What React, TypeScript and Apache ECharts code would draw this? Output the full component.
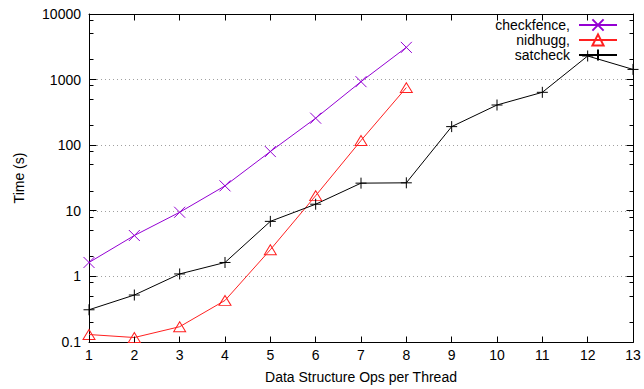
import React, { useEffect, useRef } from "react";
import * as echarts from "echarts";

const opsPerThread = [1, 2, 3, 4, 5, 6, 7, 8, 9, 10, 11, 12, 13];
const checkfenceTimes = [1.63, 4.2, 9.5, 24, 80, 258, 930, 3100];
const nidhuggTimes = [0.13, 0.117, 0.171, 0.43, 2.55, 17, 118, 755];
const satcheckTimes = [0.31, 0.52, 1.09, 1.63, 6.9, 12.6, 26.4, 26.7, 192, 410, 640, 2290, 1430];
const seriesNames = ["checkfence,", "nidhugg,", "satcheck"];
const majorTickValues = [0.1, 1, 10, 100, 1000, 10000];
const minorTickValues = [0.2, 0.5, 0.8, 2, 5, 8, 20, 50, 80, 200, 500, 800, 2000, 5000, 8000];

const X_MIN = 1;
const X_MAX = 13;
const Y_MIN = 0.1;
const Y_MAX = 10000;

const FONT = "Liberation Sans, Arial, Helvetica, sans-serif";
const PURPLE = "#9400d3";
const RED = "#ff2020";
const BLACK = "#000000";

const SYM_X = "path://M0,0L10,10M10,0L0,10";
const SYM_TRI = "path://M5,0L10,9L0,9Z";
const SYM_PLUS = "path://M5,0L5,10M0,5L10,5";

function pairs(vals: number[]) {
  return vals.map((v, i) => [opsPerThread[i], v]);
}

const snap = (v: number) => Math.round(v - 0.5) + 0.5;

export default function App() {
  const ref = useRef<HTMLDivElement>(null);
  useEffect(() => {
    if (!ref.current) return;
    const chart = echarts.init(ref.current, null, { renderer: "svg" });
    const mkSeries = (name: string, vals: number[], color: string, symbol: string, size: number | number[]) => ({
      name,
      type: "line",
      data: pairs(vals),
      xAxisIndex: 0,
      yAxisIndex: 0,
      symbol,
      symbolSize: size,
      symbolKeepAspect: true,
      z: 3,
      lineStyle: { color, width: 1 },
      itemStyle: { color: "transparent", borderColor: color, borderWidth: 1 },
      emphasis: { disabled: true },
    });
    const axisLine = { show: true, onZero: false, lineStyle: { color: "#000", width: 1 } };
    chart.setOption({
      animation: false,
      textStyle: { fontFamily: FONT },
      grid: { left: 89, right: 11, top: 14, bottom: 47, containLabel: false },
      legend: {
        data: seriesNames,
        orient: "vertical",
        right: 26,
        top: 18,
        align: "right",
        padding: 0,
        itemGap: 1,
        itemWidth: 38,
        itemHeight: 14,
        selectedMode: false,
        textStyle: { fontFamily: FONT, fontSize: 14, color: "#000", padding: [0, 4, 0, 0] },
      },
      xAxis: [
        {
          type: "value",
          min: X_MIN,
          max: X_MAX,
          interval: 1,
          position: "bottom",
          name: "Data Structure Ops per Thread",
          nameLocation: "middle",
          nameGap: 28,
          nameTextStyle: { fontFamily: FONT, fontSize: 14, color: "#000" },
          axisLine,
          axisTick: { show: false },
          axisLabel: { fontFamily: FONT, fontSize: 14, color: "#000", margin: 6 },
          splitLine: { show: false },
        },
        {
          type: "value",
          min: X_MIN,
          max: X_MAX,
          interval: 1,
          position: "top",
          axisLine,
          axisTick: { show: false },
          axisLabel: { show: false },
          splitLine: { show: false },
        },
      ],
      yAxis: [
        {
          type: "log",
          logBase: 10,
          min: Y_MIN,
          max: Y_MAX,
          splitNumber: 5,
          position: "left",
          name: "Time (s)",
          nameLocation: "middle",
          nameGap: 63,
          nameTextStyle: { fontFamily: FONT, fontSize: 14, color: "#000" },
          axisLine,
          axisTick: { show: false },
          axisLabel: {
            fontFamily: FONT,
            fontSize: 14,
            color: "#000",
            margin: 8,
            formatter: (v: number) => String(Number(v.toPrecision(6))),
          },
          splitLine: { show: true, lineStyle: { color: "#a0a0a0", width: 1, type: [1, 3] } },
        },
        {
          type: "log",
          logBase: 10,
          min: Y_MIN,
          max: Y_MAX,
          splitNumber: 5,
          position: "right",
          axisLine,
          axisTick: { show: false },
          axisLabel: { show: false },
          splitLine: { show: false },
        },
      ],
      series: [
        mkSeries(seriesNames[0], checkfenceTimes, PURPLE, SYM_X, 11),
        mkSeries(seriesNames[1], nidhuggTimes, RED, SYM_TRI, [12, 11]),
        mkSeries(seriesNames[2], satcheckTimes, BLACK, SYM_PLUS, 11),
      ],
    });

    const ticks: any[] = [];
    const pushLine = (x1: number, y1: number, x2: number, y2: number) =>
      ticks.push({ type: "line", silent: true, z: 100, shape: { x1, y1, x2, y2 }, style: { stroke: "#000", lineWidth: 1 } });
    const yTicks = (vals: number[], len: number) => {
      vals.forEach((v) => {
        const l = chart.convertToPixel({ gridIndex: 0 }, [X_MIN, v]) as number[];
        const r = chart.convertToPixel({ gridIndex: 0 }, [X_MAX, v]) as number[];
        if (!l || !r) return;
        const y = snap(l[1]);
        pushLine(snap(l[0]), y, snap(l[0]) + len, y);
        pushLine(snap(r[0]), y, snap(r[0]) - len, y);
      });
    };
    yTicks(majorTickValues, 7);
    yTicks(minorTickValues, 4);
    opsPerThread.forEach((v) => {
      const b = chart.convertToPixel({ gridIndex: 0 }, [v, Y_MIN]) as number[];
      const t = chart.convertToPixel({ gridIndex: 0 }, [v, Y_MAX]) as number[];
      if (!b || !t) return;
      const x = snap(b[0]);
      pushLine(x, snap(b[1]), x, snap(b[1]) - 6);
      pushLine(x, snap(t[1]), x, snap(t[1]) + 6);
    });
    chart.setOption({ graphic: { elements: ticks } });

    return () => chart.dispose();
  }, []);
  return <div ref={ref} style={{ width: 644, height: 389, position: "absolute", left: 0, top: 0 }} />;
}
